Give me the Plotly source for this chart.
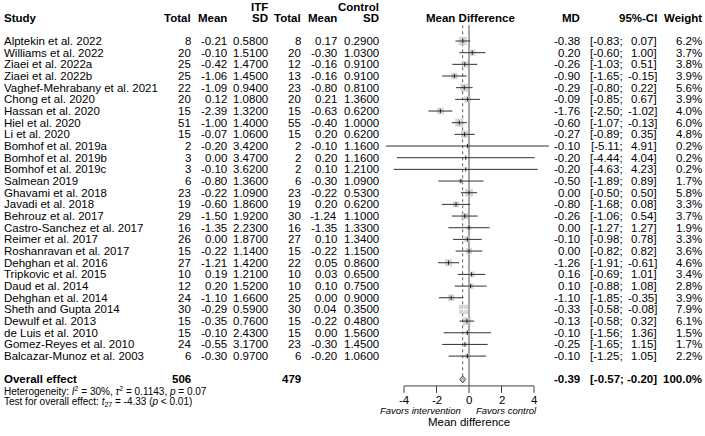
import math
import plotly.graph_objects as go

# study level data (ITF = intervention, Control)
studies = ["Alptekin et al. 2022", "Williams et al. 2022", "Ziaei et al. 2022a", "Ziaei et al. 2022b",
           "Vaghef-Mehrabany et al. 2021", "Chong et al. 2020", "Hassan et al. 2020", "Hiel et al. 2020",
           "Li et al. 2020", "Bomhof et al. 2019a", "Bomhof et al. 2019b", "Bomhof et al. 2019c",
           "Salmean 2019", "Ghavami et al. 2018", "Javadi et al. 2018", "Behrouz et al. 2017",
           "Castro-Sanchez et al. 2017", "Reimer et al. 2017", "Roshanravan et al. 2017", "Dehghan et al. 2016",
           "Tripkovic et al. 2015", "Daud et al. 2014", "Dehghan et al. 2014", "Sheth and Gupta 2014",
           "Dewulf et al. 2013", "de Luis et al. 2010", "Gomez-Reyes et al. 2010", "Balcazar-Munoz et al. 2003"]
itf_total = [8, 20, 25, 25, 22, 20, 15, 51, 15, 2, 3, 3, 6, 23, 19, 29, 16, 26, 15, 27, 10, 12, 24, 30, 15, 15, 24, 6]
itf_mean = [-0.21, -0.10, -0.42, -1.06, -1.09, 0.12, -2.39, -1.00, -0.07, -0.20, 0.00, -0.10, -0.80, -0.22,
            -0.60, -1.50, -1.35, 0.00, -0.22, -1.21, 0.19, 0.20, -1.10, -0.29, -0.35, -0.10, -0.55, -0.30]
itf_sd = [0.58, 1.51, 1.47, 1.45, 0.94, 1.08, 1.32, 1.40, 1.06, 3.42, 3.47, 3.62, 1.36, 1.09,
          1.86, 1.92, 2.23, 1.87, 1.14, 1.42, 1.21, 1.52, 1.66, 0.59, 0.76, 2.43, 3.17, 0.97]
ctl_total = [8, 20, 12, 13, 23, 20, 15, 55, 15, 2, 2, 2, 6, 23, 19, 30, 16, 27, 15, 22, 10, 10, 25, 30, 15, 15, 23, 6]
ctl_mean = [0.17, -0.30, -0.16, -0.16, -0.80, 0.21, -0.63, -0.40, 0.20, -0.10, 0.20, 0.10, -0.30, -0.22,
            0.20, -1.24, -1.35, 0.10, -0.22, 0.05, 0.03, 0.10, 0.00, 0.04, -0.22, 0.00, -0.30, -0.20]
ctl_sd = [0.29, 1.03, 0.91, 0.91, 0.81, 1.36, 0.62, 1.00, 0.62, 1.16, 1.16, 1.21, 1.09, 0.53,
          0.62, 1.10, 1.33, 1.34, 1.15, 0.86, 0.65, 0.75, 0.90, 0.35, 0.48, 1.56, 1.45, 1.06]
md = [-0.38, 0.20, -0.26, -0.90, -0.29, -0.09, -1.76, -0.60, -0.27, -0.10, -0.20, -0.20, -0.50, 0.00,
      -0.80, -0.26, 0.00, -0.10, 0.00, -1.26, 0.16, 0.10, -1.10, -0.33, -0.13, -0.10, -0.25, -0.10]
ci_low = [-0.83, -0.60, -1.03, -1.65, -0.80, -0.85, -2.50, -1.07, -0.89, -5.11, -4.44, -4.63, -1.89, -0.50,
          -1.68, -1.06, -1.27, -0.98, -0.82, -1.91, -0.69, -0.88, -1.85, -0.58, -0.58, -1.56, -1.65, -1.25]
ci_high = [0.07, 1.00, 0.51, -0.15, 0.22, 0.67, -1.02, -0.13, 0.35, 4.91, 4.04, 4.23, 0.89, 0.50,
           0.08, 0.54, 1.27, 0.78, 0.82, -0.61, 1.01, 1.08, -0.35, -0.08, 0.32, 1.36, 1.15, 1.05]
weight = [6.2, 3.7, 3.8, 3.9, 5.6, 3.9, 4.0, 6.0, 4.8, 0.2, 0.2, 0.2, 1.7, 5.8,
          3.3, 3.7, 1.9, 3.3, 3.6, 4.6, 3.4, 2.8, 3.9, 7.9, 6.1, 1.5, 1.7, 2.2]

# pooled result
overall_md = -0.39
overall_low = -0.57
overall_high = -0.20
overall_itf_n = 506
overall_ctl_n = 479
heterogeneity = "Heterogeneity: <i>I</i><sup>2</sup> = 30%, <i>\u03c4</i><sup>2</sup> = 0.1143, <i>p</i> = 0.07"
overall_test = "Test for overall effect: <i>t</i><sub>27</sub> = -4.33 (<i>p</i> &lt; 0.01)"

x_ticks = [-4, -2, 0, 2, 4]

W, H = 705, 436
X0, PX = 469, 16.25          # pixel of MD = 0, pixels per MD unit
ROW0, ROWH = 41, 11.67       # first study row, row height
FONT = "Liberation Sans, Arial, sans-serif"
FS = 11.5


def row(k):
    return ROW0 + k * ROWH


n = len(studies)
rows_y = [row(i) for i in range(n)]
y_overall = row(n + 1)
y_axis = y_overall + 6.5
y_top = row(-1) - 4

fig = go.Figure()

# reference lines
fig.add_trace(go.Scatter(x=[0, 0], y=[y_top, y_axis], mode="lines",
                         line=dict(color="#a6a6a6", width=2), hoverinfo="skip"))
fig.add_trace(go.Scatter(x=[overall_md, overall_md], y=[y_top, y_axis], mode="lines",
                         line=dict(color="#606060", width=1, dash="dot"), hoverinfo="skip"))

# study squares
sizes = [3.3 * math.sqrt(w) for w in weight]
fig.add_trace(go.Scatter(x=md, y=rows_y, mode="markers",
                         marker=dict(symbol="square", size=sizes, color="#c4c4c4", line=dict(width=0)),
                         hoverinfo="skip"))

# confidence intervals, white when inside the square
cx, cy, wx, wy = [], [], [], []
for lo, hi, y, s in zip(ci_low, ci_high, rows_y, sizes):
    if (hi - lo) * PX < s:
        wx += [lo, hi, None]
        wy += [y, y, None]
    else:
        cx += [lo, hi, None]
        cy += [y, y, None]
fig.add_trace(go.Scatter(x=cx, y=cy, mode="lines", line=dict(color="#303030", width=1), hoverinfo="skip"))
fig.add_trace(go.Scatter(x=wx, y=wy, mode="lines", line=dict(color="white", width=1), hoverinfo="skip"))
tick_col = ["white" if (hi - lo) * PX < s else "#202020" for lo, hi, s in zip(ci_low, ci_high, sizes)]
fig.add_trace(go.Scatter(x=md, y=rows_y, mode="markers",
                         marker=dict(symbol="line-ns", size=3, line=dict(color=tick_col, width=1)),
                         hoverinfo="skip"))

# pooled diamond
fig.add_trace(go.Scatter(x=[overall_low, overall_md, overall_high, overall_md, overall_low],
                         y=[y_overall, y_overall - 3.5, y_overall, y_overall + 3.5, y_overall],
                         mode="lines", fill="toself", fillcolor="#bdbdbd",
                         line=dict(color="#505050", width=1), hoverinfo="skip"))

# x axis drawn by hand (only -4..4)
ax_x, ax_y = [x_ticks[0], x_ticks[-1], None], [y_axis, y_axis, None]
for t in x_ticks:
    ax_x += [t, t, None]
    ax_y += [y_axis, y_axis + 7, None]
fig.add_trace(go.Scatter(x=ax_x, y=ax_y, mode="lines", line=dict(color="#404040", width=1), hoverinfo="skip"))

ann = []


def txt(px, py, s, anchor="right", bold=False, size=FS, ref="paper"):
    if bold:
        s = "<b>" + s + "</b>"
    ann.append(dict(x=px / W if ref == "paper" else px, xref=ref, y=py, yref="y", text=s,
                    xanchor=anchor, yanchor="middle", showarrow=False, borderpad=0,
                    font=dict(family=FONT, size=size, color="black")))


# column positions (right edges, in pixels)
C_TOT1, C_MEAN1, C_SD1 = 192, 228, 269
C_TOT2, C_MEAN2, C_SD2 = 302, 338, 380
C_MD, C_CI_L, C_CI_H, C_W = 581, 624, 658, 703

# headers
txt(C_SD1, row(-3) + 1, "ITF", bold=True)
txt(C_SD2, row(-3) + 1, "Control", bold=True)
hy = row(-2)
txt(3, hy, "Study", anchor="left", bold=True)
for px, lab in [(C_TOT1, "Total"), (C_MEAN1, "Mean"), (C_SD1, "SD"), (C_TOT2, "Total"),
                (C_MEAN2, "Mean"), (C_SD2, "SD"), (C_MD, "MD"), (C_CI_H, "95%-CI"), (C_W, "Weight")]:
    txt(px, hy, lab, bold=True)
txt(X0 + 1, hy, "Mean Difference", anchor="center", bold=True)

# study rows
for i, y in enumerate(rows_y):
    txt(3, y, studies[i], anchor="left")
    txt(C_TOT1, y, str(itf_total[i]))
    txt(C_MEAN1, y, f"{itf_mean[i]:.2f}")
    txt(C_SD1, y, f"{itf_sd[i]:.4f}")
    txt(C_TOT2, y, str(ctl_total[i]))
    txt(C_MEAN2, y, f"{ctl_mean[i]:.2f}")
    txt(C_SD2, y, f"{ctl_sd[i]:.4f}")
    txt(C_MD, y, f"{md[i]:.2f}")
    txt(C_CI_L, y, f"[{ci_low[i]:.2f};")
    txt(C_CI_H, y, f"{ci_high[i]:.2f}]")
    txt(C_W, y, f"{weight[i]:.1f}%")

# pooled row
txt(3, y_overall, "Overall effect", anchor="left", bold=True)
txt(C_TOT1, y_overall, str(overall_itf_n), bold=True)
txt(C_TOT2, y_overall, str(overall_ctl_n), bold=True)
txt(C_MD, y_overall, f"{overall_md:.2f}", bold=True)
txt(C_CI_L + 1, y_overall, f"[{overall_low:.2f};", bold=True)
txt(C_CI_H, y_overall, f"{overall_high:.2f}]", bold=True)
txt(C_W, y_overall, "100.0%", bold=True)
txt(3, row(n + 2) - 0.5, heterogeneity, anchor="left", size=10)
txt(3, row(n + 3) - 0.5, overall_test, anchor="left", size=10)

# axis labels
for t in x_ticks:
    txt(t, y_axis + 14, str(t), anchor="center", ref="x")
txt(462, y_axis + 24.5, "<i>Favors intervention</i>", size=9.5)
txt(475, y_axis + 24.5, "<i>Favors control</i>", anchor="left", size=9.5)
txt(X0, y_axis + 36.5, "Mean difference", anchor="center")

fig.update_layout(
    width=W, height=H, margin=dict(l=0, r=0, t=0, b=0),
    paper_bgcolor="white", plot_bgcolor="white", showlegend=False,
    xaxis=dict(range=[(0 - X0) / PX, (W - X0) / PX], visible=False, fixedrange=True),
    yaxis=dict(range=[H, 0], visible=False, fixedrange=True),
    annotations=ann,
)

fig.write_html("out.html", config={"displayModeBar": False},
               post_script="document.body.style.margin='0px';")
